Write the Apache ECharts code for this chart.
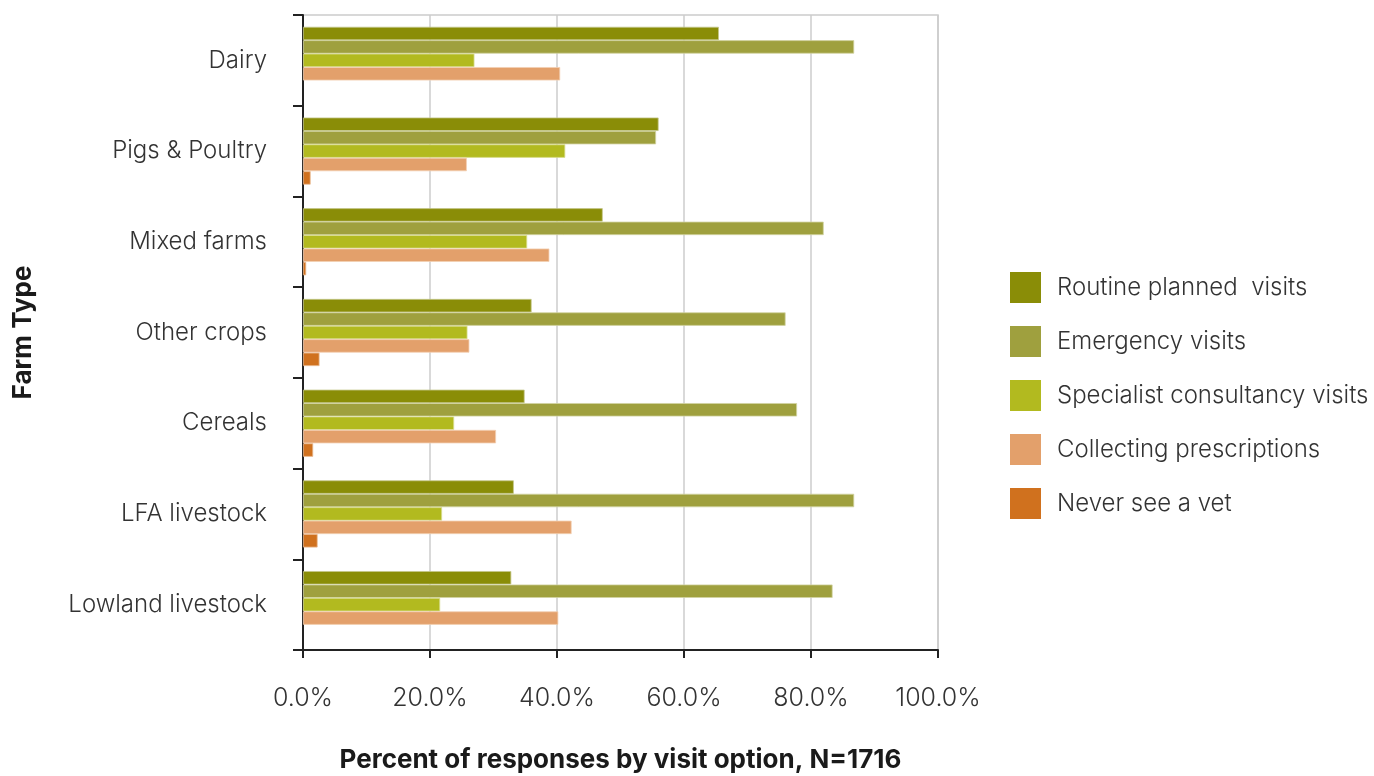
<!DOCTYPE html>
<html>
<head>
<meta charset="utf-8">
<script src="https://cdn.jsdelivr.net/npm/echarts@6/dist/echarts.min.js"></script>
<style>
  html, body { margin: 0; padding: 0; background: #fff; }
  #chart { width: 1374px; height: 776px; }
</style>
</head>
<body>
<div id="chart"></div>
<script>
// Farm types, top to bottom
const farmTypes = ['Dairy', 'Pigs & Poultry', 'Mixed farms', 'Other crops', 'Cereals', 'LFA livestock', 'Lowland livestock'];

// Percent of responses for each visit option, per farm type
const routinePlanned   = [65.5, 56.0, 47.2, 36.0, 34.9, 33.2, 32.8];
const emergency        = [86.8, 55.6, 82.0, 76.0, 77.8, 86.8, 83.4];
const specialist       = [27.0, 41.3, 35.3, 25.9, 23.8, 21.9, 21.6];
const prescriptions    = [40.5, 25.8, 38.8, 26.2, 30.4, 42.3, 40.2];
const neverSeeVet      = [0.0, 1.2, 0.5, 2.6, 1.6, 2.3, 0.0];

const seriesNames = ['Routine planned  visits', 'Emergency visits', 'Specialist consultancy visits', 'Collecting prescriptions', 'Never see a vet'];
const xTicks = [0, 20, 40, 60, 80, 100];

const colors = ['#8a8d07', '#9fa03e', '#b2ba1f', '#e3a06b', '#d0711e'];
const edges  = ['#c4c68a', '#d2d3a2', '#d9dd90', '#f2cfb2', '#e8b88e'];
const values = [routinePlanned, emergency, specialist, prescriptions, neverSeeVet];

const font = 'Inter, Liberation Sans, Arial, sans-serif';
const textColor = '#333';

const chart = echarts.init(document.getElementById('chart'), null, { renderer: 'canvas' });

chart.setOption({
  animation: false,
  backgroundColor: '#fff',
  grid: {
    left: 303, right: 436, top: 15, bottom: 126,
    outerBoundsMode: 'none',
    containLabel: false,
    show: true, borderColor: '#cccccc', borderWidth: 1.5
  },
  legend: {
    orient: 'vertical',
    left: 1010,
    top: 272,
    padding: 0,
    itemWidth: 31,
    itemHeight: 31,
    itemGap: 23,
    icon: 'rect',
    data: seriesNames,
    itemStyle: { borderWidth: 0 },
    textStyle: { fontFamily: font, fontWeight: 300, fontSize: 24, color: textColor, padding: [3, 0, 0, 11] }
  },
  xAxis: {
    type: 'value',
    min: xTicks[0],
    max: xTicks[xTicks.length - 1],
    interval: 20,
    name: 'Percent of responses by visit option, N=1716',
    nameLocation: 'middle',
    nameGap: 97,
    nameTextStyle: { fontFamily: font, fontSize: 26, fontWeight: 'bold', color: '#1a1a1a' },
    axisLine: { show: true, lineStyle: { color: '#222', width: 2 } },
    axisTick: { show: true, length: 8, lineStyle: { color: '#222', width: 2 } },
    axisLabel: {
      margin: 36,
      fontFamily: font, fontWeight: 300, fontSize: 25, color: textColor,
      formatter: v => v.toFixed(1) + '%'
    },
    splitLine: { show: true, lineStyle: { color: '#cccccc', width: 1.5 } }
  },
  yAxis: {
    type: 'category',
    inverse: true,
    data: farmTypes,
    name: 'Farm Type',
    nameLocation: 'middle',
    nameGap: 267,
    nameRotate: 90,
    nameTextStyle: { fontFamily: font, fontSize: 26, fontWeight: 'bold', color: '#1a1a1a' },
    axisLine: { show: true, lineStyle: { color: '#222', width: 2 } },
    axisTick: { show: true, length: 10, lineStyle: { color: '#222', width: 2 } },
    axisLabel: { margin: 36, fontFamily: font, fontWeight: 300, fontSize: 24, color: textColor, padding: [3, 0, 0, 0] },
    splitLine: { show: false }
  },
  series: seriesNames.map((name, i) => ({
    name: name,
    type: 'bar',
    // zero-valued bars get no outline so nothing is drawn for them
    data: values[i].map(v => v === 0 ? { value: v, itemStyle: { borderWidth: 0 } } : v),
    barGap: '0%',
    barCategoryGap: '26%',
    itemStyle: { color: colors[i], borderColor: edges[i], borderWidth: 0.8 },
    emphasis: { disabled: true }
  }))
});
</script>
</body>
</html>
